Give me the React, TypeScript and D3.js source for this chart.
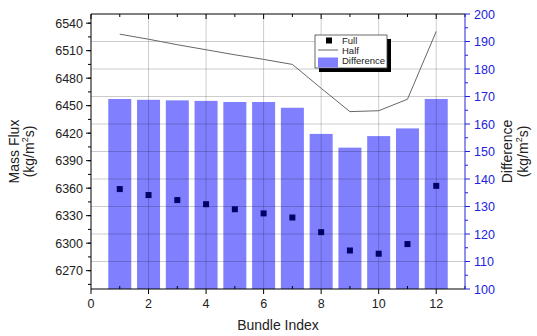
import React from "react";
import * as d3 from "d3";

// values
const bundles = [1, 2, 3, 4, 5, 6, 7, 8, 9, 10, 11, 12];
const fullFlux = [6359, 6352.5, 6347, 6342.5, 6337, 6332.5, 6328, 6312, 6292, 6288.5, 6299, 6362.5];
const halfFlux = [6528, 6522.5, 6516.5, 6511, 6505.5, 6500.5, 6495, 6469, 6443.5, 6444.5, 6457, 6531];
const difference = [169.1, 168.8, 168.6, 168.4, 168.0, 168.0, 165.9, 156.4, 151.4, 155.6, 158.4, 169.1];

const xTicks = [0, 2, 4, 6, 8, 10, 12];
const leftTicks = [6270, 6300, 6330, 6360, 6390, 6420, 6450, 6480, 6510, 6540];
const rightTicks = [100, 110, 120, 130, 140, 150, 160, 170, 180, 190, 200];
const legendItems = ["Full", "Half", "Difference"];

const W = 537;
const H = 336;
const margin = { top: 14, right: 72, bottom: 47, left: 91 };
const font = "Liberation Sans, Arial, sans-serif";
const barColor = "#8080ff";
const axisBlue = "#2222dd";

const App = () => {
  const x = d3.scaleLinear().domain([0, 13]).range([margin.left, W - margin.right]);
  const yL = d3.scaleLinear().domain([6250, 6550]).range([H - margin.bottom, margin.top]);
  const yR = d3.scaleLinear().domain([100, 200]).range([H - margin.bottom, margin.top]);

  const x0 = x(0);
  const x1 = x(13);
  const yTop = margin.top;
  const yBot = H - margin.bottom;
  const barW = x(0.8) - x(0);

  const line = d3
    .line<number>()
    .x((d, i) => x(bundles[i]))
    .y((d) => yL(d));

  const minorX = d3.range(0, 14);
  const minorLeft = d3.range(6255, 6550, 15);
  const minorRight = d3.range(100, 201, 5);

  const unit = (cx: number, cy: number, color: string) => (
    <text x={cx} y={cy} textAnchor="middle" fontSize={14} fill={color} transform={`rotate(-90 ${cx} ${cy})`}>
      (kg/m<tspan fontSize={9} dy={-6}>2</tspan>
      <tspan dy={6}>s)</tspan>
    </text>
  );

  const midY = (yTop + yBot) / 2;

  return (
    <svg width={W} height={H} style={{ position: "absolute", left: 0, top: 0, background: "#fff" }} fontFamily={font}>
      {/* bars (difference, right axis) */}
      {difference.map((d, i) => (
        <rect
          key={"b" + i}
          x={x(bundles[i]) - barW / 2}
          y={yR(d)}
          width={barW}
          height={yR(100) - yR(d)}
          fill={barColor}
        />
      ))}

      {/* grid */}
      {rightTicks.slice(1, -1).map((t) => (
        <line key={"gh" + t} x1={x0} x2={x1} y1={yR(t)} y2={yR(t)} stroke="rgba(0,0,0,0.2)" strokeWidth={1} />
      ))}
      {xTicks.slice(1).map((t) => (
        <line key={"gv" + t} x1={x(t)} x2={x(t)} y1={yTop} y2={yBot} stroke="rgba(0,0,0,0.2)" strokeWidth={1} />
      ))}

      {/* half line */}
      <path d={line(halfFlux) || ""} fill="none" stroke="#666" strokeWidth={1} />

      {/* full points */}
      {fullFlux.map((d, i) => (
        <rect key={"p" + i} x={x(bundles[i]) - 3} y={yL(d) - 3} width={6} height={6} fill="#000066" />
      ))}

      {/* top axis */}
      <line x1={x0} x2={x1} y1={yTop} y2={yTop} stroke="#000" />
      {minorX.map((t) => (
        <line key={"tt" + t} x1={x(t)} x2={x(t)} y1={yTop} y2={yTop + (t % 2 === 0 ? 5 : 3)} stroke="#000" />
      ))}

      {/* bottom axis */}
      <line x1={x0} x2={x1} y1={yBot} y2={yBot} stroke="#000" />
      {minorX.map((t) =>
        t % 2 === 0 ? (
          <line key={"bt" + t} x1={x(t)} x2={x(t)} y1={yBot} y2={yBot + 5} stroke="#000" />
        ) : (
          <line key={"bt" + t} x1={x(t)} x2={x(t)} y1={yBot} y2={yBot - 3} stroke="#000" />
        )
      )}
      {xTicks.map((t) => (
        <text key={"bl" + t} x={x(t)} y={yBot + 19} textAnchor="middle" fontSize={12.5} fill="#222">
          {t}
        </text>
      ))}
      <text x={(x0 + x1) / 2} y={H - 6} textAnchor="middle" fontSize={14} fill="#222">
        Bundle Index
      </text>

      {/* left axis */}
      <line x1={x0} x2={x0} y1={yTop} y2={yBot} stroke="#000" />
      {minorLeft.map((t) => (
        <line key={"lm" + t} x1={x0 - 3} x2={x0} y1={yL(t)} y2={yL(t)} stroke="#000" />
      ))}
      {leftTicks.map((t) => (
        <g key={"lt" + t}>
          <line x1={x0 - 5} x2={x0} y1={yL(t)} y2={yL(t)} stroke="#000" />
          <text x={x0 - 8} y={yL(t) + 4.5} textAnchor="end" fontSize={12.5} fill="#222">
            {t}
          </text>
        </g>
      ))}
      <text x={19} y={midY} textAnchor="middle" fontSize={14} fill="#222" transform={`rotate(-90 19 ${midY})`}>
        Mass Flux
      </text>
      {unit(34, midY, "#222")}

      {/* right axis */}
      <line x1={x1} x2={x1} y1={yTop} y2={yBot} stroke={axisBlue} />
      {minorRight.map((t) => (
        <line key={"rm" + t} x1={x1} x2={x1 + (t % 10 === 0 ? 5 : 3)} y1={yR(t)} y2={yR(t)} stroke={axisBlue} />
      ))}
      {rightTicks.map((t) => (
        <text key={"rl" + t} x={x1 + 9} y={yR(t) + 4.5} fontSize={12.5} fill={axisBlue}>
          {t}
        </text>
      ))}
      <text x={512} y={midY} textAnchor="middle" fontSize={14} fill="#222" transform={`rotate(-90 512 ${midY})`}>
        Difference
      </text>
      {unit(528, midY, "#222")}

      {/* legend */}
      <g transform="translate(315,35)">
        <rect x={4} y={4} width={72} height={33} fill="#000" />
        <rect x={0} y={0} width={72} height={33} fill="#fff" stroke="#444" strokeWidth={0.8} />
        <rect x={11} y={2.5} width={6} height={6} fill="#000" />
        <line x1={3} x2={23} y1={15} y2={15} stroke="#666" />
        <rect x={3} y={22.5} width={20} height={10} fill={barColor} />
        {legendItems.map((s, i) => (
          <text key={s} x={27} y={9 + i * 10} fontSize={9.5} fill="#222">
            {s}
          </text>
        ))}
      </g>
    </svg>
  );
};

export default App;
